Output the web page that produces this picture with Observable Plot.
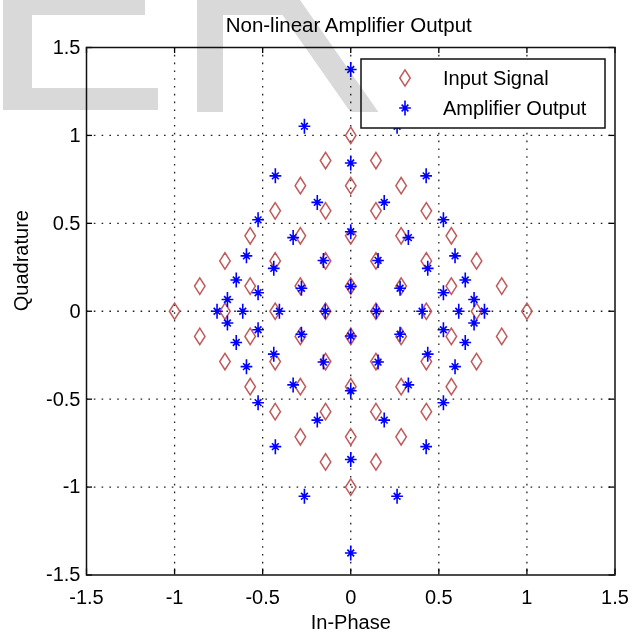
<!DOCTYPE html>
<html><head><meta charset="utf-8">
<script src="https://cdn.jsdelivr.net/npm/d3@7"></script>
<script src="https://cdn.jsdelivr.net/npm/@observablehq/plot@0.6"></script>
<style>
body{margin:0;background:#fff;}
#wrap{position:relative;width:639px;height:635px;font-family:"Liberation Sans",Arial,sans-serif;overflow:hidden;}
#wrap > svg{position:absolute;left:0;top:0;}
</style></head>
<body><div id="wrap"></div>
<script>
const title = "Non-linear Amplifier Output";
const xLabel = "In-Phase";
const yLabel = "Quadrature";
const seriesNames = ["Input Signal", "Amplifier Output"];
const xTicks = [-1.5, -1, -0.5, 0, 0.5, 1, 1.5];
const yTicks = [-1.5, -1, -0.5, 0, 0.5, 1, 1.5];
const tickLabels = ["-1.5", "-1", "-0.5", "0", "0.5", "1", "1.5"];

// Input signal constellation [In-Phase, Quadrature]
const inputSignal = [
  [0,1],
  [-0.143,0.857],[0.143,0.857],
  [-0.286,0.714],[0,0.714],[0.286,0.714],
  [-0.429,0.571],[-0.143,0.571],[0.143,0.571],[0.429,0.571],
  [-0.571,0.429],[-0.286,0.429],[0,0.429],[0.286,0.429],[0.571,0.429],
  [-0.714,0.286],[-0.429,0.286],[-0.143,0.286],[0.143,0.286],[0.429,0.286],[0.714,0.286],
  [-0.857,0.143],[-0.571,0.143],[-0.286,0.143],[0,0.143],[0.286,0.143],[0.571,0.143],[0.857,0.143],
  [-1,0],[-0.714,0],[-0.429,0],[-0.143,0],[0.143,0],[0.429,0],[0.714,0],[1,0],
  [-0.857,-0.143],[-0.571,-0.143],[-0.286,-0.143],[0,-0.143],[0.286,-0.143],[0.571,-0.143],[0.857,-0.143],
  [-0.714,-0.286],[-0.429,-0.286],[-0.143,-0.286],[0.143,-0.286],[0.429,-0.286],[0.714,-0.286],
  [-0.571,-0.429],[-0.286,-0.429],[0,-0.429],[0.286,-0.429],[0.571,-0.429],
  [-0.429,-0.571],[-0.143,-0.571],[0.143,-0.571],[0.429,-0.571],
  [-0.286,-0.714],[0,-0.714],[0.286,-0.714],
  [-0.143,-0.857],[0.143,-0.857],
  [0,-1]
];

// Amplifier output constellation [In-Phase, Quadrature]
const amplifierOutput = [
  [0,1.375],
  [-0.263,1.052],[0.263,1.052],
  [0,0.843],
  [-0.428,0.77],[0.428,0.77],
  [-0.19,0.619],[0.19,0.619],
  [-0.526,0.52],[0.526,0.52],
  [0,0.452],
  [-0.327,0.419],[0.327,0.419],
  [-0.592,0.315],[0.592,0.315],
  [-0.155,0.289],[0.155,0.289],
  [-0.437,0.244],[0.437,0.244],
  [-0.65,0.178],[0.65,0.178],
  [0,0.141],
  [-0.28,0.131],[0.28,0.131],
  [-0.526,0.105],[0.526,0.105],
  [-0.70,0.067],[0.70,0.067],
  [-0.759,0],[-0.613,0],[-0.405,0],[-0.145,0],[0.145,0],[0.405,0],[0.613,0],[0.759,0],
  [-0.70,-0.067],[0.70,-0.067],
  [-0.526,-0.105],[0.526,-0.105],
  [-0.28,-0.131],[0.28,-0.131],
  [0,-0.141],
  [-0.65,-0.178],[0.65,-0.178],
  [-0.437,-0.244],[0.437,-0.244],
  [-0.155,-0.289],[0.155,-0.289],
  [-0.592,-0.315],[0.592,-0.315],
  [-0.327,-0.419],[0.327,-0.419],
  [0,-0.452],
  [-0.526,-0.52],[0.526,-0.52],
  [-0.19,-0.619],[0.19,-0.619],
  [-0.428,-0.77],[0.428,-0.77],
  [0,-0.843],
  [-0.263,-1.052],[0.263,-1.052],
  [0,-1.375]
];

const W = 639, H = 635;
const mL = 86, mR = 24.5, mT = 47, mB = 60.5;
const plotW = W - mL - mR, plotH = H - mT - mB;
const inputColor = "#c05a5a", outputColor = "#0000ff";

const diamondSymbol = {draw(ctx, size) {
  const r = Math.sqrt(size / Math.PI), w = r * 0.64;
  ctx.moveTo(0, -r); ctx.lineTo(w, 0); ctx.lineTo(0, r); ctx.lineTo(-w, 0); ctx.closePath();
}};
const starSymbol = {draw(ctx, size) {
  const r = Math.sqrt(size / Math.PI), h = r * 0.78, d = r * 0.45, c = r * 0.2;
  ctx.moveTo(0, -r); ctx.lineTo(0, r);
  ctx.moveTo(-h, 0); ctx.lineTo(h, 0);
  ctx.moveTo(-d, -d); ctx.lineTo(d, d);
  ctx.moveTo(-d, d); ctx.lineTo(d, -d);
  ctx.moveTo(c, 0); ctx.arc(0, 0, c, 0, 2 * Math.PI);
}};
const fmt = d => tickLabels[xTicks.indexOf(d)];
const gridStyle = {stroke: "#222", strokeOpacity: 1, strokeWidth: 1.3, strokeDasharray: "1.6,6.2"};

const chart = Plot.plot({
  width: W, height: H,
  marginLeft: mL, marginRight: mR, marginTop: mT, marginBottom: mB,
  style: {fontFamily: '"Liberation Sans", Arial, sans-serif', fontSize: "20px", background: "transparent", color: "#000", overflow: "visible"},
  x: {domain: [-1.5, 1.5]},
  y: {domain: [-1.5, 1.5]},
  marks: [
    Plot.gridX(xTicks.slice(1, -1), gridStyle),
    Plot.gridY(yTicks.slice(1, -1), gridStyle),
    Plot.tickX(xTicks, {x: d => d, insetTop: plotH - 6, stroke: "#000", strokeWidth: 1.3}),
    Plot.tickX(xTicks, {x: d => d, insetBottom: plotH - 6, stroke: "#000", strokeWidth: 1.3}),
    Plot.tickY(yTicks, {y: d => d, insetRight: plotW - 6, stroke: "#000", strokeWidth: 1.3}),
    Plot.tickY(yTicks, {y: d => d, insetLeft: plotW - 6, stroke: "#000", strokeWidth: 1.3}),
    Plot.axisX({ticks: xTicks, tickSize: 0, tickPadding: 14.5, tickFormat: fmt, label: null, fontSize: 20, fill: "#000"}),
    Plot.axisY({ticks: yTicks, tickSize: 0, tickPadding: 6, tickFormat: fmt, label: null, fontSize: 20, fill: "#000"}),
    Plot.dot(inputSignal, {x: d => d[0], y: d => d[1], symbol: diamondSymbol, r: 8.2, stroke: inputColor, strokeWidth: 1.5, fill: "none"}),
    Plot.dot(amplifierOutput, {x: d => d[0], y: d => d[1], symbol: starSymbol, r: 7.5, stroke: outputColor, strokeWidth: 1.6, fill: outputColor}),
    Plot.frame({stroke: "#111", strokeWidth: 1.5}),
    Plot.text([title], {text: d => d, frameAnchor: "top", lineAnchor: "middle", dy: -22.5, dx: -2, fontSize: 20.5, fill: "#000"}),
    Plot.text([xLabel], {text: d => d, frameAnchor: "bottom", lineAnchor: "middle", dy: 47.5, fontSize: 20, fill: "#000"}),
    Plot.text([yLabel], {text: d => d, frameAnchor: "left", lineAnchor: "middle", dx: -65, rotate: -90, fontSize: 20, fill: "#000"})
  ]
});
const wrap = document.getElementById("wrap");
wrap.appendChild(chart);

// Legend box
const legend = d3.create("svg").attr("width", 247).attr("height", 72)
  .style("left", "360px").style("top", "58px").style("position", "absolute");
legend.append("rect").attr("x", 1).attr("y", 1).attr("width", 244).attr("height", 69)
  .attr("fill", "#fff").attr("stroke", "#111").attr("stroke-width", 1.5);
const symbols = [diamondSymbol, starSymbol];
const colors = [inputColor, outputColor];
const sizes = [8.2, 7.5];
seriesNames.forEach((name, i) => {
  const p = d3.path();
  symbols[i].draw(p, sizes[i] * sizes[i] * Math.PI);
  const cy = 20 + i * 30;
  legend.append("path").attr("d", p.toString()).attr("transform", `translate(45,${cy})`)
    .attr("stroke", colors[i]).attr("stroke-width", i ? 1.6 : 1.5).attr("fill", i ? colors[i] : "none");
  legend.append("text").attr("x", 83).attr("y", cy).attr("dy", "0.35em")
    .attr("font-family", '"Liberation Sans", Arial, sans-serif').attr("font-size", 20).attr("fill", "#000").text(name);
});
wrap.appendChild(legend.node());

// Background watermark (decorative, partially visible letters)
const wm = d3.create("svg").attr("width", W).attr("height", H)
  .style("position", "absolute").style("left", 0).style("top", 0)
  .style("pointer-events", "none").style("mix-blend-mode", "multiply");
wm.append("path").attr("fill", "#d9d9d9")
  .attr("d", "M3,0H145V15H32V88H158V110H3Z");
wm.append("path").attr("fill", "#d9d9d9")
  .attr("d", "M197,0H300L378.4,112H350.4L282.5,15H223V112H197Z");
wrap.appendChild(wm.node());
</script>
</body></html>
